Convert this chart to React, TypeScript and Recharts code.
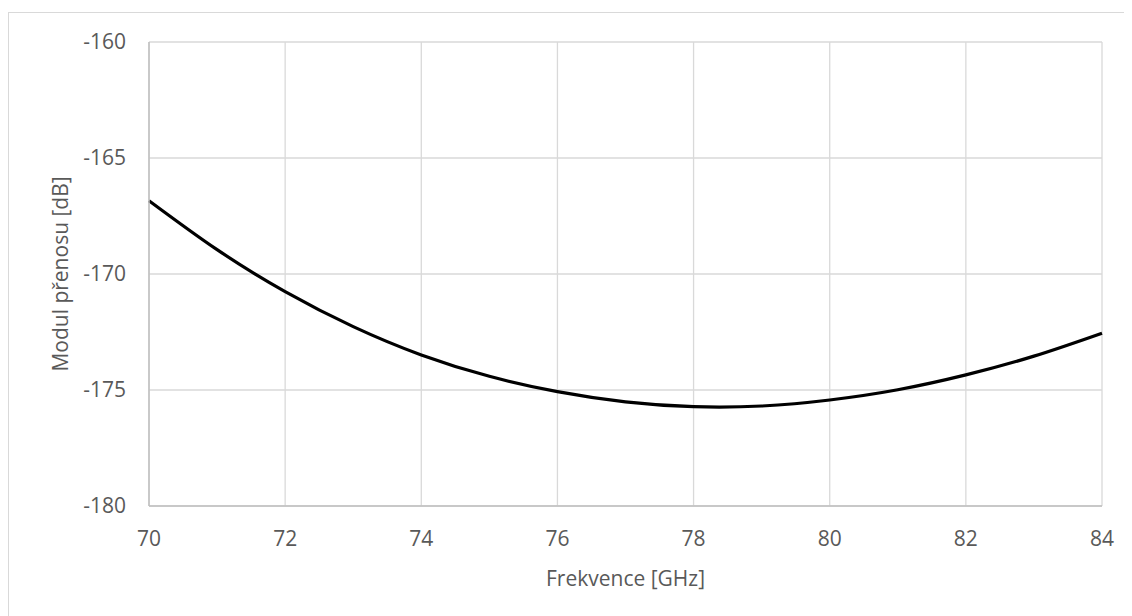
import React from 'react';
import { LineChart, Line, XAxis, YAxis, CartesianGrid, Label } from 'recharts';

const frequencies = [70, 71, 72, 73, 74, 75, 76, 77, 78, 79, 80, 81, 82, 83, 84];
const transferDb = [-166.84, -168.95, -170.76, -172.27, -173.49, -174.41, -175.07, -175.51, -175.72, -175.69, -175.43, -174.99, -174.35, -173.54, -172.55];
const xTicks = [70, 72, 74, 76, 78, 80, 82, 84];
const yTicks = [-180, -175, -170, -165, -160];
const xTitle = 'Frekvence [GHz]';
const yTitle = 'Modul přenosu [dB]';

const data = frequencies.map((f, i) => ({ f, v: transferDb[i] }));

const FONT = '"Open Sans", "Noto Sans", sans-serif';
const TEXT = '#595959';

export default function App() {
  return (
    <div style={{ paddingTop: 4 }}>
      <div style={{ border: '1px solid #d9d9d9', width: 1124, height: 610, background: '#fff', boxSizing: 'content-box' }}>
        <LineChart width={1124} height={600} data={data} margin={{ top: 29, right: 31, left: 0, bottom: 0 }}>
          <CartesianGrid stroke="#d9d9d9" strokeWidth={1.3} />
          <XAxis
            dataKey="f"
            type="number"
            domain={[70, 84]}
            ticks={xTicks}
            height={107}
            tickLine={false}
            axisLine={{ stroke: '#bfbfbf', strokeWidth: 1.5 }}
            tickMargin={19}
            tick={{ fill: TEXT, fontSize: 21, fontFamily: FONT }}
            interval={0}
          >
            <Label
              content={({ viewBox }: any) => (
                <text x={viewBox.x + viewBox.width / 2} y={viewBox.y + 80} textAnchor="middle" fill={TEXT} fontSize={21} fontFamily={FONT}>
                  {xTitle}
                </text>
              )}
            />
          </XAxis>
          <YAxis
            type="number"
            domain={[-180, -160]}
            ticks={yTicks}
            width={140}
            tickLine={false}
            axisLine={{ stroke: '#bfbfbf', strokeWidth: 1.5 }}
            tickMargin={17}
            tick={{ fill: TEXT, fontSize: 21, fontFamily: FONT }}
            interval={0}
          >
            <Label
              content={({ viewBox }: any) => {
                const cx = viewBox.x + 59;
                const cy = viewBox.y + viewBox.height / 2;
                return (
                  <text x={cx} y={cy} transform={`rotate(-90 ${cx} ${cy})`} textAnchor="middle" fill={TEXT} fontSize={21} fontFamily={FONT}>
                    {yTitle}
                  </text>
                );
              }}
            />
          </YAxis>
          <Line type="natural" dataKey="v" stroke="#000" strokeWidth={3.2} dot={false} isAnimationActive={false} />
        </LineChart>
      </div>
    </div>
  );
}
